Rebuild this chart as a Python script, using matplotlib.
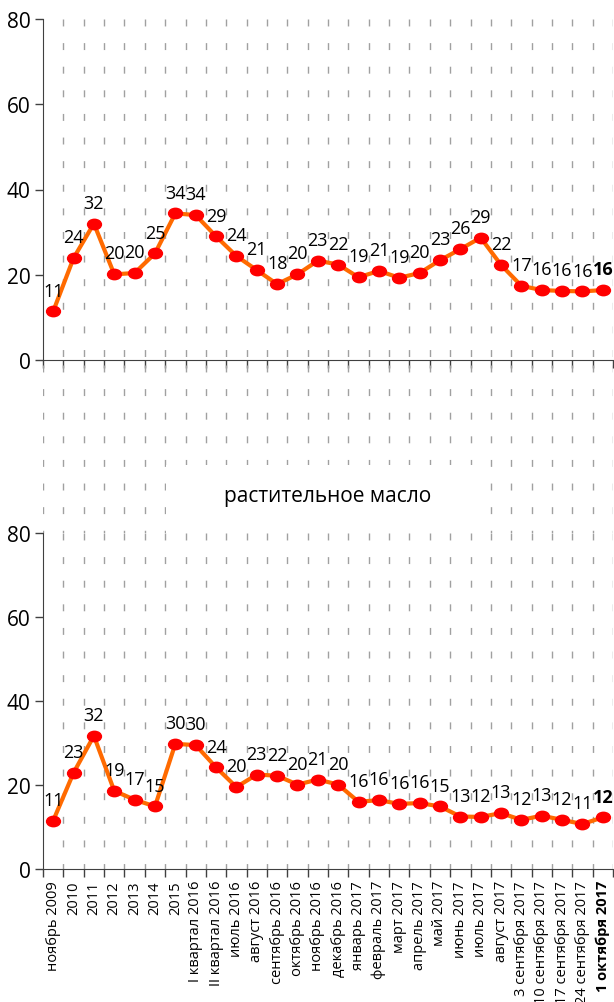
import numpy as np
import matplotlib
matplotlib.use('Agg')
import matplotlib.pyplot as plt
from matplotlib.path import Path
from matplotlib.transforms import Affine2D
from matplotlib.patches import Rectangle

plt.rcParams['font.family'] = ['Open Sans', 'DejaVu Sans']

categories = ['ноябрь 2009', '2010', '2011', '2012', '2013', '2014', '2015',
              'I квартал 2016', 'II квартал 2016', 'июль 2016', 'август 2016',
              'сентябрь 2016', 'октябрь 2016', 'ноябрь 2016', 'декабрь 2016',
              'январь 2017', 'февраль 2017', 'март 2017', 'апрель 2017', 'май 2017',
              'июнь 2017', 'июль 2017', 'август 2017', '3 сентября 2017',
              '10 сентября 2017', '17 сентября 2017', '24 сентября 2017', '1 октября 2017']

top_values = [11.4, 23.9, 32.0, 20.1, 20.4, 25.0, 34.4, 34.0, 29.0, 24.4, 21.1, 17.8,
              20.1, 23.3, 22.4, 19.4, 20.9, 19.3, 20.4, 23.4, 26.0, 28.7, 22.3, 17.4,
              16.4, 16.2, 16.1, 16.4]
top_labels = [11, 24, 32, 20, 20, 25, 34, 34, 29, 24, 21, 18, 20, 23, 22, 19, 21, 19,
              20, 23, 26, 29, 22, 17, 16, 16, 16, 16]

bottom_title = 'растительное масло'
bottom_values = [11.5, 22.9, 31.7, 18.6, 16.5, 14.9, 29.8, 29.5, 24.2, 19.5, 22.5, 22.2,
                 20.1, 21.3, 20.1, 16.0, 16.4, 15.5, 15.7, 14.9, 12.5, 12.4, 13.3, 11.7,
                 12.7, 11.7, 10.7, 12.3]
bottom_labels = [11, 23, 32, 19, 17, 15, 30, 30, 24, 20, 23, 22, 20, 21, 20, 16, 16, 16,
                 16, 15, 13, 12, 13, 12, 13, 12, 11, 12]

yticks = [0, 20, 40, 60, 80]

W, H = 614, 1003
fig = plt.figure(figsize=(W / 100, H / 100), dpi=100)

ellipse = Path.unit_circle().transformed(Affine2D().scale(1.0, 0.75))
grid_style = dict(colors='#a0a0a0', linewidths=1, linestyles=[(0, (5, 12))])
n = len(categories)
x = np.arange(n)
bounds = np.arange(n + 1) - 0.5


def make_axes(rect, values, labels):
    ax = fig.add_axes(rect)
    ax.set_xlim(-0.5, n - 0.5)
    ax.set_ylim(0, 80)
    ax.set_yticks(yticks)
    ax.tick_params(axis='y', labelsize=15, length=6, width=1, color='#404040', pad=3)
    for s in ['top', 'right']:
        ax.spines[s].set_visible(False)
    for s in ['left', 'bottom']:
        ax.spines[s].set_color('#404040')
    ax.vlines(bounds[1:], 80, 0, zorder=1, **grid_style)
    ax.plot(x, values, color='#ff6a00', lw=3, zorder=3, clip_on=False)
    ax.plot(x, values, ls='none', marker=ellipse, ms=10, color='#ff0000', zorder=4,
            clip_on=False)
    for i, (v, lab) in enumerate(zip(values, labels)):
        ax.annotate(str(lab), (i, v), xytext=(0, 15), textcoords='offset points',
                    ha='center', va='center', fontsize=13,
                    fontweight='bold' if i == n - 1 else 'normal', zorder=5)
    ax.set_xticks(bounds, minor=True)
    ax.tick_params(axis='x', which='minor', length=6, width=1, color='#404040')
    return ax


# top chart
top_rect = [43 / W, 1 - 361 / H, 570 / W, 341 / H]
ax1 = make_axes(top_rect, top_values, top_labels)
ax1.set_xticks([])
ax1.set_xticks(bounds, minor=True)

# dashed grid continuing below the top chart
gap = fig.add_axes([43 / W, 1 - 534 / H, 570 / W, (534 - 361) / H])
gap.set_xlim(-0.5, n - 0.5)
gap.set_ylim(0, 1)
gap.axis('off')
gap.vlines(bounds, 0.97, 0, **grid_style)

# bottom chart
bot_rect = [43 / W, 1 - 870 / H, 570 / W, 336 / H]
ax2 = make_axes(bot_rect, bottom_values, bottom_labels)
ax2.set_xticks(x)
ax2.set_xticklabels(categories, rotation=90, fontsize=10.5)
ax2.tick_params(axis='x', which='major', length=0, pad=8)
ax2.get_xticklabels()[-1].set_fontweight('bold')

# title over the grid
fig.patches.append(Rectangle((166 / W, 1 - 534 / H), 322 / W, 68 / H,
                             transform=fig.transFigure, facecolor='white',
                             edgecolor='none', zorder=2))
fig.text((43 + 285) / W, 1 - 497 / H, bottom_title, ha='center', va='center',
         fontsize=15, zorder=3)

fig.savefig('out.png', dpi=100)
